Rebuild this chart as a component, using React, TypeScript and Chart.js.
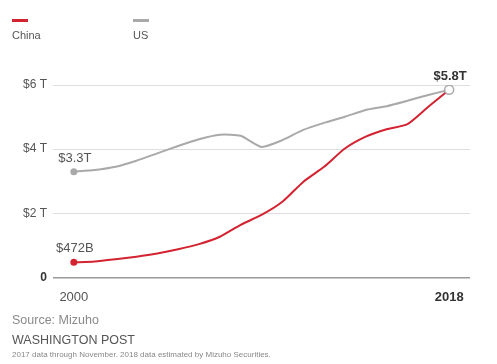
import React, { useEffect, useRef } from "react";
import { Chart, registerables } from "chart.js";

Chart.register(...registerables);

const years = [2000, 2001, 2002, 2003, 2004, 2005, 2006, 2007, 2008, 2009, 2010, 2011, 2012, 2013, 2014, 2015, 2016, 2017, 2018];
const chinaValues = [0.472, 0.5, 0.57, 0.65, 0.75, 0.88, 1.04, 1.27, 1.64, 1.95, 2.36, 2.98, 3.45, 4.02, 4.39, 4.62, 4.78, 5.32, 5.85];
const usValues = [3.3, 3.35, 3.45, 3.64, 3.87, 4.1, 4.31, 4.45, 4.42, 4.07, 4.28, 4.6, 4.82, 5.01, 5.22, 5.34, 5.51, 5.69, 5.85];
const yTicks = [0, 2, 4, 6];
const xTicks = [2000, 2018];
const yTickLabels = ["0", "$2 T", "$4 T", "$6 T"];
const annotations = [
  { series: "China", index: 0, text: "$472B", bold: false },
  { series: "US", index: 0, text: "$3.3T", bold: false },
  { series: "US", index: 18, text: "$5.8T", bold: true },
];

const FONT = "'Liberation Sans', Arial, sans-serif";
const RED = "#d42330";
const GRAY = "#a9a9a9";

export default function App() {
  const ref = useRef<HTMLCanvasElement | null>(null);

  useEffect(() => {
    if (!ref.current) return;
    const annotPlugin = {
      id: "annot",
      afterDatasetsDraw(chart: any) {
        const ctx = chart.ctx;
        const xs = chart.scales.x;
        const ys = chart.scales.y;
        ctx.save();
        ctx.textAlign = "center";
        ctx.textBaseline = "middle";
        annotations.forEach((a) => {
          const vals = a.series === "China" ? chinaValues : usValues;
          const x = xs.getPixelForValue(years[a.index]);
          const y = ys.getPixelForValue(vals[a.index]);
          ctx.font = (a.bold ? "bold " : "") + "13px " + FONT;
          ctx.fillStyle = a.bold ? "#333" : "#555";
          ctx.fillText(a.text, x + 1, y - 13.5);
        });
        ctx.restore();
      },
    };
    const last = years.length - 1;
    const chart = new Chart(ref.current, {
      type: "line",
      data: {
        datasets: [
          {
            label: "US",
            data: years.map((y, i) => ({ x: y, y: usValues[i] })),
            borderColor: GRAY,
            borderWidth: 2,
            pointRadius: (c: any) => (c.dataIndex === 0 ? 3.5 : c.dataIndex === last ? 4.5 : 0),
            pointBackgroundColor: (c: any) => (c.dataIndex === last ? "#fff" : GRAY),
            pointBorderColor: GRAY,
            pointBorderWidth: (c: any) => (c.dataIndex === last ? 1.5 : 0),
            tension: 0.2,
            order: 0,
          },
          {
            label: "China",
            data: years.map((y, i) => ({ x: y, y: chinaValues[i] })),
            borderColor: RED,
            borderWidth: 2,
            pointRadius: (c: any) => (c.dataIndex === 0 ? 3.5 : 0),
            pointBackgroundColor: RED,
            pointBorderWidth: 0,
            tension: 0.2,
            order: 1,
          },
        ],
      },
      options: {
        animation: false,
        responsive: false,
        maintainAspectRatio: false,
        layout: { padding: { top: 85, right: 27, bottom: 0, left: 0 } },
        plugins: { legend: { display: false }, tooltip: { enabled: false } },
        scales: {
          x: {
            type: "linear",
            min: 1999,
            max: 2019,
            afterBuildTicks: (s: any) => {
              s.ticks = xTicks.map((v) => ({ value: v }));
            },
            afterFit: (s: any) => {
              s.height = 86.5;
            },
            grid: { display: false, drawTicks: false },
            border: { display: false },
            ticks: {
              padding: 12,
              color: (c: any) => (c.tick && c.tick.value === 2018 ? "#333" : "#555"),
              font: (c: any) => ({ family: FONT, size: 13, weight: c.tick && c.tick.value === 2018 ? "bold" : "normal" }),
              callback: (v: any) => String(v),
              maxRotation: 0,
            },
          },
          y: {
            min: 0,
            max: 6,
            afterBuildTicks: (s: any) => {
              s.ticks = yTicks.map((v) => ({ value: v }));
            },
            afterFit: (s: any) => {
              s.width = 53;
            },
            grid: {
              drawTicks: false,
              color: (c: any) => (c.tick && c.tick.value === 0 ? "#9a9a9a" : "#dedede"),
              lineWidth: (c: any) => (c.tick && c.tick.value === 0 ? 1.5 : 1),
            },
            border: { display: false },
            ticks: {
              padding: 6,
              color: (c: any) => (c.tick && c.tick.value === 0 ? "#333" : "#555"),
              font: (c: any) => ({ family: FONT, size: 12, weight: c.tick && c.tick.value === 0 ? "bold" : "normal" }),
              callback: (v: any) => yTickLabels[yTicks.indexOf(Number(v))],
            },
          },
        },
      } as any,
      plugins: [annotPlugin],
    });
    return () => chart.destroy();
  }, []);

  const legendItem = (left: number, color: string, label: string) => (
    <div style={{ position: "absolute", left, top: 19 }}>
      <div style={{ width: 16, height: 2.5, background: color }} />
      <div style={{ marginTop: 7, fontFamily: FONT, fontSize: 11, color: "#555" }}>{label}</div>
    </div>
  );

  return (
    <div style={{ position: "fixed", left: 0, top: 0, width: 497, height: 364, background: "#fff", overflow: "hidden" }}>
      <canvas ref={ref} width={497} height={364} style={{ position: "absolute", left: 0, top: 0, width: 497, height: 364 }} />
      {legendItem(12, RED, "China")}
      {legendItem(133, GRAY, "US")}
      <div style={{ position: "absolute", left: 12, top: 313, fontFamily: FONT, fontSize: 12.5, color: "#8a8a8a" }}>Source: Mizuho</div>
      <div style={{ position: "absolute", left: 12, top: 333, fontFamily: FONT, fontSize: 12.5, color: "#555" }}>WASHINGTON POST</div>
      <div style={{ position: "absolute", left: 12, top: 350, fontFamily: FONT, fontSize: 8, color: "#888" }}>
        2017 data through November. 2018 data estimated by Mizuho Securities.
      </div>
    </div>
  );
}
